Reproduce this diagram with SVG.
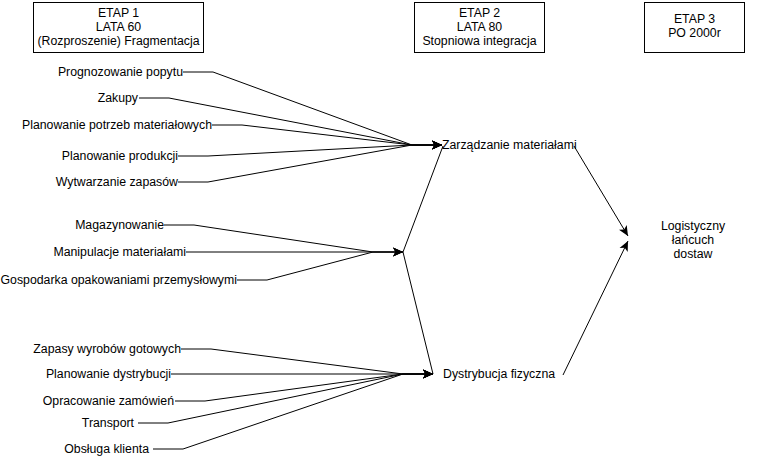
<svg xmlns="http://www.w3.org/2000/svg" width="760" height="465" viewBox="0 0 760 465">
<defs>
<marker id="arr" viewBox="0 0 10 10" refX="10" refY="5" markerWidth="10" markerHeight="10" markerUnits="userSpaceOnUse" orient="auto">
<path d="M0,0.5 L10,5 L0,9.5 L2.5,5 Z" fill="#000"/>
</marker>
<style>
text{font-family:"Liberation Sans",Arial,Helvetica,sans-serif;font-size:12.3px;fill:#000}
.r{text-anchor:end}
.c{text-anchor:middle}
.box{fill:#fff;stroke:#000;stroke-width:1}
.e{fill:none;stroke:#000;stroke-width:1}
.a{marker-end:url(#arr)}
</style>
</defs>
<rect width="760" height="465" fill="#fff"/>
<g id="etap1"><rect class="box" x="33.5" y="2.5" width="170" height="50"/><text class="c" x="118.5" y="17">ETAP 1</text><text class="c" x="118.5" y="31">LATA 60</text><text class="c" x="118.5" y="45">(Rozproszenie) Fragmentacja</text></g>
<g id="etap2"><rect class="box" x="414.5" y="2.5" width="130" height="50"/><text class="c" x="479.5" y="17">ETAP 2</text><text class="c" x="479.5" y="31">LATA 80</text><text class="c" x="479.5" y="45">Stopniowa integracja</text></g>
<g id="etap3"><rect class="box" x="644.5" y="2.5" width="100" height="50"/><text class="c" x="694.5" y="23">ETAP 3</text><text class="c" x="694.5" y="37">PO 2000r</text></g>
<g id="n1"><text class="r" x="183" y="76">Prognozowanie popytu</text></g>
<g id="n2"><text class="r" x="138" y="102">Zakupy</text></g>
<g id="n3"><text class="r" x="212" y="129">Planowanie potrzeb materiałowych</text></g>
<g id="n4"><text class="r" x="178" y="160">Planowanie produkcji</text></g>
<g id="n5"><text class="r" x="178" y="186">Wytwarzanie zapasów</text></g>
<g id="n6"><text class="r" x="164" y="229">Magazynowanie</text></g>
<g id="n7"><text class="r" x="186" y="256">Manipulacje materiałami</text></g>
<g id="n8"><text class="r" x="237" y="284">Gospodarka opakowaniami przemysłowymi</text></g>
<g id="n9"><text class="r" x="181" y="353">Zapasy wyrobów gotowych</text></g>
<g id="n10"><text class="r" x="171" y="378">Planowanie dystrybucji</text></g>
<g id="n11"><text class="r" x="174" y="405">Opracowanie zamówień</text></g>
<g id="n12"><text class="r" x="134" y="427">Transport</text></g>
<g id="n13"><text class="r" x="149" y="453">Obsługa klienta</text></g>
<g id="zm"><text x="442" y="149">Zarządzanie materiałami</text></g>
<g id="df"><text x="443" y="378">Dystrybucja fizyczna</text></g>
<g id="lld"><text class="c" x="693" y="230">Logistyczny</text><text class="c" x="693" y="244">łańcuch</text><text class="c" x="693" y="258">dostaw</text></g>
<g id="connectors">
<path class="e a" d="M183,72 H213 L412,145 H442"/>
<path class="e a" d="M139,98 H169 L412,145 H442"/>
<path class="e a" d="M212,125 H242 L412,145 H442"/>
<path class="e a" d="M178,156 H208 L412,145 H442"/>
<path class="e a" d="M178,182 H208 L412,145 H442"/>
<path class="e a" d="M164,225 H194 L373,252 H403"/>
<path class="e a" d="M186,252 H403"/>
<path class="e a" d="M237,280 H267 L373,252 H403"/>
<path class="e a" d="M181,349 H211 L403,374 H433"/>
<path class="e a" d="M171,374 H433"/>
<path class="e a" d="M175,401 H205 L403,374 H433"/>
<path class="e a" d="M138,423 H168 L403,374 H433"/>
<path class="e a" d="M153,449 H183 L403,374 H433"/>
<path class="e" d="M403,252 L443,146"/>
<path class="e" d="M403,252 L433,374"/>
<path class="e a" d="M574,146 L628,236"/>
<path class="e a" d="M563,375 L628,241"/>
</g>
</svg>
